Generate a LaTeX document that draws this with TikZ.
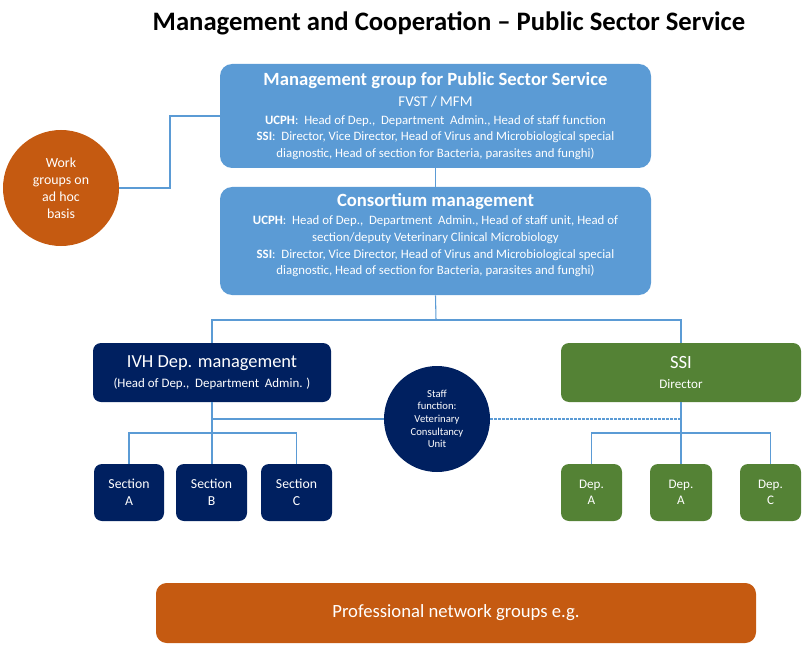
\documentclass[tikz,border=0pt]{standalone}
\usepackage{fontspec}
\setmainfont{Carlito}
\usepackage{xcolor}
\definecolor{SkyBlue}{HTML}{5B9BD5}
\definecolor{NavyBlue}{HTML}{002060}
\definecolor{LeafGreen}{HTML}{548235}
\definecolor{BurntOrange}{HTML}{C55A11}
\definecolor{LinkBlue}{HTML}{5B9BD5}
\usepackage{tikz}
\usetikzlibrary{positioning}

\tikzset{
  bigbox/.style={rectangle, rounded corners=9pt, fill=SkyBlue, text=white,
    align=center, inner sep=2pt, font=\fontsize{9.6}{12.5}\selectfont},
  navybox/.style={rectangle, rounded corners=6pt, fill=NavyBlue, text=white,
    align=center, inner sep=1pt},
  greenbox/.style={rectangle, rounded corners=6pt, fill=LeafGreen, text=white,
    align=center, inner sep=1pt},
  blob/.style={circle, text=white, align=center, inner sep=0pt},
  link/.style={draw=LinkBlue, line width=0.8pt},
}

\begin{document}
\begin{tikzpicture}[x=0.75pt, y=-0.75pt]
  \useasboundingbox (0,0) rectangle (810,656);

  % title
  \node[font=\fontsize{20}{24}\selectfont\bfseries] (title) at (449,23)
    {Management and Cooperation -- Public Sector Service};

  % top management boxes
  \node[bigbox, minimum width=323.25pt, minimum height=78pt] (mgmt) at (435.5,116)
    {{\fontsize{14}{16}\selectfont\bfseries Management group for Public Sector Service}\\[3pt]
     {\fontsize{11.2}{13}\selectfont FVST / MFM}\\[1pt]
     \textbf{UCPH}:\ \ Head of Dep.,\ \ Department\ \ Admin., Head of staff function\\
     \textbf{SSI}:\ \ Director, Vice Director, Head of Virus and Microbiological special\\
     diagnostic, Head of section for Bacteria, parasites and funghi)};
  \node[bigbox, minimum width=323.25pt, minimum height=81pt, text depth=10pt] (cons) at (435.5,241)
    {{\fontsize{14}{16}\selectfont\bfseries Consortium management}\\[1pt]
     \textbf{UCPH}:\ \ Head of Dep.,\ \ Department\ \ Admin., Head of staff unit, Head of\\
     section/deputy Veterinary Clinical Microbiology\\
     \textbf{SSI}:\ \ Director, Vice Director, Head of Virus and Microbiological special\\
     diagnostic, Head of section for Bacteria, parasites and funghi)};

  % side circles
  \node[blob, fill=BurntOrange, minimum size=87pt, font=\fontsize{10.4}{12.8}\selectfont] (work) at (61,188)
    {Work\\groups on\\ad hoc\\basis};
  \node[blob, fill=NavyBlue, minimum size=79.5pt, font=\fontsize{8}{9.5}\selectfont] (staff) at (437,419)
    {Staff\\function:\\Veterinary\\Consultancy\\Unit};

  % department level
  \node[navybox, minimum width=178.5pt, minimum height=44.25pt, font=\fontsize{9.7}{15}\selectfont] (ivh) at (212,372.5)
    {{\fontsize{13.8}{15}\selectfont IVH Dep. management}\\
     (Head of Dep.,\ \ Department\ \ Admin. )};
  \node[greenbox, minimum width=180pt, minimum height=44.25pt, font=\fontsize{9.8}{15}\selectfont] (ssi) at (681,372.5)
    {{\fontsize{14}{15}\selectfont SSI}\\
     Director};

  % sections and deps
  \node[navybox, minimum width=52.5pt, minimum height=42.75pt, font=\fontsize{10.3}{12.7}\selectfont] (secA) at (129,492.5) {Section\\A};
  \node[navybox, minimum width=53.25pt, minimum height=42.75pt, font=\fontsize{10.3}{12.7}\selectfont] (secB) at (211.5,492.5) {Section\\B};
  \node[navybox, minimum width=53.25pt, minimum height=42.75pt, font=\fontsize{10.3}{12.7}\selectfont] (secC) at (296.5,492.5) {Section\\C};
  \node[greenbox, minimum width=45.75pt, minimum height=42.75pt, font=\fontsize{9.8}{12}\selectfont] (depA) at (591.5,492.5) {Dep.\\A};
  \node[greenbox, minimum width=46.5pt, minimum height=42.75pt, font=\fontsize{9.8}{12}\selectfont] (depAA) at (681,492.5) {Dep.\\A};
  \node[greenbox, minimum width=45.75pt, minimum height=42.75pt, font=\fontsize{9.8}{12}\selectfont] (depC) at (770.5,492.5) {Dep.\\C};

  % network band
  \node[rectangle, rounded corners=8pt, fill=BurntOrange, text=white,
    minimum width=450pt, minimum height=45pt, font=\fontsize{14}{16}\selectfont] (prof) at (456,613)
    {Professional network groups e.g.};

  % connectors
  \coordinate (wk) at (170,188);
  \coordinate (split) at (436,320);
  \coordinate (ivhbar) at (212,433);
  \coordinate (ssibar) at (681,433);
  \draw[link] (work.east) -- (wk) |- (mgmt.west);
  \draw[link] (mgmt.south) -- (mgmt.south |- cons.north);
  \draw[link] (cons.south) -- (split);
  \draw[link] (ivh.north) |- (split) -| (ssi.north);
  \draw[link] (ivh.south) -- (ivhbar);
  \draw[link] (secA.north) |- (ivhbar) -| (secC.north);
  \draw[link] (ivhbar) -- (ivhbar |- secB.north);
  \draw[link] (ivh.south |- staff.west) -- (staff.west);
  \draw[link, dashed, dash pattern=on 2pt off 1pt] (staff.east) -- (ssi.south |- staff.east);
  \draw[link] (ssi.south) -- (depAA.north);
  \draw[link] (depA.north) |- (ssibar) -| (depC.north);
\end{tikzpicture}
\end{document}
